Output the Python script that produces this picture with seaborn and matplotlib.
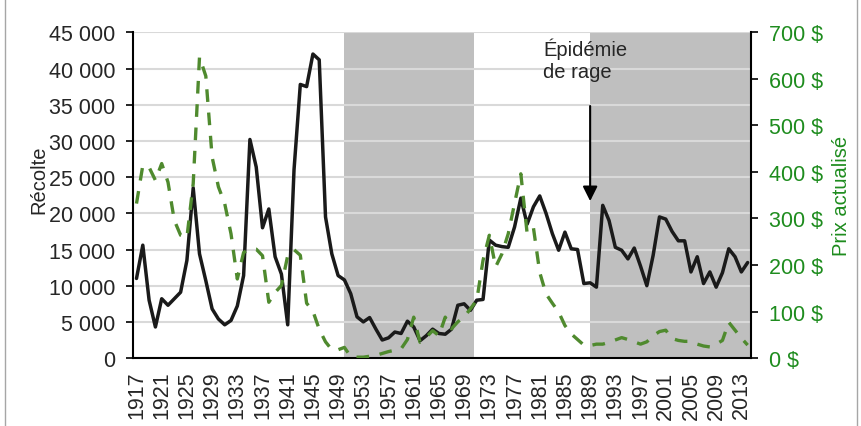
import numpy as np
import pandas as pd
import matplotlib
matplotlib.use("Agg")
import matplotlib.pyplot as plt
from matplotlib.ticker import FuncFormatter
from matplotlib.lines import Line2D
import seaborn as sns

annees = np.arange(1917, 2015)

recolte = [11000, 15600, 8000, 4300, 8200, 7300, 8200, 9100, 13500, 23500,
           14400, 10700, 6800, 5400, 4600, 5200, 7200, 11400, 30200, 26400,
           18000, 20600, 14000, 11600, 4600, 26000, 37800, 37500, 42000, 41200,
           19500, 14400, 11400, 10800, 8900, 5700, 5000, 5600, 4000, 2500,
           2800, 3600, 3400, 5100, 4300, 2400, 3100, 4000, 3400, 3300,
           4000, 7300, 7500, 6600, 8000, 8100, 16300, 15600, 15400, 15300,
           18100, 22100, 18500, 20900, 22400, 20000, 17200, 14900, 17400, 15100,
           15000, 10300, 10400, 9800, 21100, 19000, 15300, 14900, 13700, 15200,
           12700, 10000, 14200, 19500, 19200, 17500, 16200, 16200, 11900, 14000,
           10300, 11900, 9800, 11800, 15100, 14000, 11900, 13200]

prix = [332, 414, 410, 382, 418, 378, 296, 264, 259, 375,
        647, 606, 432, 368, 332, 267, 170, 227, 234, 234,
        220, 120, 141, 156, 220, 233, 221, 118, 101, 62,
        35, 18, 18, 23, 3, 2, 2, 4, 6, 10,
        14, 17, 20, 40, 88, 34, 45, 59, 48, 88,
        63, 78, 88, 106, 124, 210, 264, 196, 224, 267,
        332, 396, 268, 280, 184, 138, 118, 99, 70, 52,
        40, 28, 27, 30, 30, 34, 39, 44, 40, 35,
        30, 35, 48, 57, 60, 42, 38, 36, 36, 30,
        26, 24, 30, 38, 77, 60, 43, 28]

df = pd.DataFrame({"annee": annees, "recolte": recolte, "prix": prix})

sns.set_style("white")
plt.rcParams["font.family"] = ["Liberation Sans", "DejaVu Sans"]

vert_texte = "#1E8C1E"
vert_ligne = "#4F8A2E"
taille = 15.5

fig = plt.figure(figsize=(8.62, 4.27), dpi=100)
ax = fig.add_axes([0.1547, 0.159, 0.7163, 0.763])

# zones grisees
ax.axvspan(1950, 1970.6, color="#BFBFBF", lw=0, zorder=0.2)
ax.axvspan(1989, 2014.5, color="#BFBFBF", lw=0, zorder=0.2)

sns.lineplot(data=df, x="annee", y="recolte", ax=ax, color="#1A1A1A", lw=2.5)

ax2 = ax.twinx()
sns.lineplot(data=df, x="annee", y="prix", ax=ax2, color=vert_ligne, lw=2.4,
             linestyle=(0, (3.8, 3.2)))

ax.set_xlim(1916.5, 2014.5)
ax.set_ylim(0, 45000)
ax2.set_ylim(0, 700)

ax.set_axisbelow(True)
ax.yaxis.grid(True, color="#D9D9D9", lw=1.5)
ax.xaxis.grid(False)

ax.set_yticks(np.arange(0, 45001, 5000))
ax.yaxis.set_major_formatter(FuncFormatter(lambda v, p: f"{int(v):,}".replace(",", " ")))
ax2.set_yticks(np.arange(0, 701, 100))
ax2.yaxis.set_major_formatter(FuncFormatter(lambda v, p: f"{int(v)} $"))

ax.set_xticks(np.arange(1917, 2014, 4))
ax.set_xticklabels([str(a) for a in np.arange(1917, 2014, 4)], rotation=90)
ax.set_xticks(np.arange(1916.5, 2015, 1), minor=True)
ax.tick_params(axis="x", which="major", length=0, pad=9, labelsize=taille)
ax.tick_params(axis="x", which="minor", direction="inout", length=8, width=1, color="black")
ax.tick_params(axis="y", length=5, width=1.2, color="black", pad=8, labelsize=taille, left=True)
ax2.tick_params(axis="y", length=5, width=1.2, color="black", pad=8, labelsize=taille,
                labelcolor=vert_texte, right=True)

for s in ["top", "right"]:
    ax.spines[s].set_visible(False)
for s in ["top", "left", "bottom"]:
    ax2.spines[s].set_visible(False)
for sp in [ax.spines["left"], ax.spines["bottom"], ax2.spines["right"]]:
    sp.set_color("black")
    sp.set_linewidth(1.5)

ax.set_xlabel("")
ax.set_ylabel("Récolte", fontsize=14.5)
ax.yaxis.set_label_coords(-0.138, 0.55)
ax2.set_ylabel("Prix actualisé", fontsize=14.5, color=vert_texte)
ax2.yaxis.set_label_coords(1.131, 0.5)

ax.annotate("", xy=(1989, 21300), xytext=(1989, 35200),
            arrowprops=dict(arrowstyle="-|>", color="black", lw=1.5, mutation_scale=22))
ax.text(1981.5, 44300, "Épidémie\nde rage", fontsize=14.5, va="top", ha="left", linespacing=1.2)

# cadre exterieur (cotes gauche et droit)
for xf in [0.006, 0.994]:
    fig.lines.append(Line2D([xf, xf], [0, 1], transform=fig.transFigure, color="#A6A6A6", lw=1))

fig.savefig("out.png", dpi=100)
